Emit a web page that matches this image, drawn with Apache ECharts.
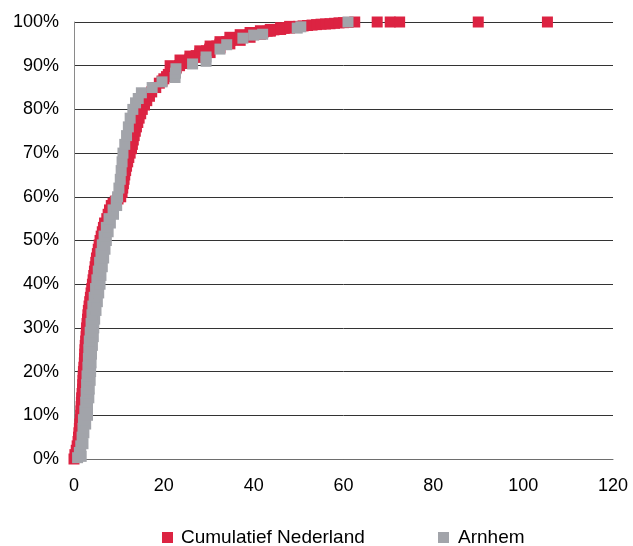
<!DOCTYPE html>
<html>
<head>
<meta charset="utf-8">
<script src="https://cdn.jsdelivr.net/npm/echarts@6/dist/echarts.min.js"></script>
<style>html,body{margin:0;padding:0;background:#fff}#c{width:633px;height:546px}</style>
</head>
<body>
<div id="c"></div>
<script>
// Cumulatief Nederland: [x, cumulative %]
var nederland = [
  [0,0],[0.4,0.5],[0.2,1],[0.8,1.5],[0.5,2],[0.7,3],[0.9,4],[1.0,5],[1.1,6],[1.2,7],
  [1.3,8],[1.4,9],[1.5,10],[1.55,11],[1.6,12],[1.65,13],[1.7,14],[1.8,15],[1.9,16],[1.95,17],
  [2.0,18],[2.05,19],[2.1,20],[2.2,21],[2.3,22],[2.35,23],[2.4,24],[2.45,25],[2.5,26],[2.6,27],
  [2.7,28],[2.75,29],[2.8,30],[2.9,31],[3.0,32],[3.1,33],[3.2,34],[3.35,35],[3.5,36],[3.65,37],
  [3.8,38],[3.95,39],[4.1,40],[4.25,41],[4.4,42],[4.55,43],[4.7,44],[4.85,45],[5.0,46],[5.2,47],
  [5.4,48],[5.6,49],[5.8,50],[6.05,51],[6.3,52],[6.55,53],[6.8,54],[7.3,55],[7.6,56],[7.9,57],
  [8.3,58],[8.7,58.5],[9.2,59],[9.8,59.5],[10.4,60],[10.7,61],[10.85,62],[11.0,63],[11.15,64],[11.3,65],
  [11.5,66],[11.7,67],[11.95,68],[12.2,69],[12.5,70],[12.8,71],[13.0,72],[13.2,73],[13.4,74],[13.65,75],
  [13.9,76],[14.2,77],[14.5,78],[14.85,79],[15.2,80],[15.7,81],[16.2,82],[16.8,83],[17.3,84],[18.2,85],
  [19.0,86],[19.6,86.5],[20.0,87],[20.6,87.5],[21.0,88],[21.5,88.5],[22.1,89],[22.8,89.5],[23.5,90],[24.2,90.5],
  [25,91],[25.8,91.5],[26.5,92],[27.2,92.3],[28,92.7],[28.7,93],[29.5,93.4],[30.2,93.8],[31,94.2],[31.8,94.5],
  [32.5,94.9],[33.2,95.2],[34,95.5],[34.8,95.8],[35.5,96],[36.3,96.3],[37,96.5],[37.7,96.7],[38.5,96.9],[39.2,97.1],
  [40,97.3],[40.8,97.45],[41.5,97.6],[42.2,97.75],[43,97.9],[43.7,98.05],[44.5,98.2],[45.2,98.3],[46,98.4],[46.8,98.55],
  [47.5,98.7],[48.2,98.8],[49,98.9],[50,99.0],[51,99.1],[52,99.2],[53,99.3],[54,99.4],[55,99.5],[56,99.55],
  [57,99.6],[58,99.7],[59,99.8],[60,99.85],[61,99.9],[62.5,100],[67.5,100],[70.4,100],[72.5,100],[90,100],
  [105.4,100],
  // upper edge of the band
  [21.4,90.0],[23.6,91.3],[25.8,92.2],[28,93.4],[30.3,94.5],[32.5,95.5],[34.7,96.5],[37,97.1],[39.2,97.6],[41.5,98.0],
  [43.7,98.3],[46,98.7],[48,99.0],
  // lower edge of the band
  [25.8,90.7],[28,91.9],[30.3,93.0],[32.5,94.1],[34.7,95.0],[37,95.8],[39.2,96.5],[41.5,97.2],[43.7,97.9],[46,98.3],
  [48,98.6]
];
// Arnhem: [x, cumulative %]
var arnhem = [
  [0.8,0.3],[1.6,0.6],[1.2,1.5],[1.5,3],[2.0,3.5],[1.8,5],[2.2,6],[2.0,7],[2.6,8],[2.1,9],
  [3.0,10],[2.4,11],[3.0,12],[2.6,13],[3.3,14],[2.7,15],[3.4,16],[2.8,17],[3.6,18],[2.9,19],
  [3.7,20],[3.1,21],[3.8,22],[3.2,23],[3.9,24],[3.3,25],[4.1,26],[3.4,27],[4.3,28],[3.6,29],
  [4.4,30],[3.8,31],[4.6,32],[4.0,33],[4.9,34],[4.2,35],[5.2,36],[4.5,37],[5.5,38],[4.8,39],
  [5.8,40],[5.1,41],[6.0,42],[5.4,43],[6.3,44],[5.7,45],[6.6,46],[6.0,47],[6.9,48],[6.3,49],
  [7.2,50],[6.7,51],[7.6,52],[7.2,53],[8.1,54],[7.8,55],[8.8,56],[8.7,57],[9.5,58],[9.4,59],
  [9.7,60],[10.0,62],[10.3,64],[10.5,66],[10.7,68],[10.9,70],[11.3,72],[11.7,74],[12.1,76],
  [12.5,78],[13.1,80],[13.7,81.5],[14.3,82.5],[15.0,83.8],[17.4,85],[19.6,86.3],[22.5,87.3],[22.6,88.3],[22.7,89.3],
  [26.4,90.4],[29.4,91],[29.4,92],[32.5,93.8],[34,94.8],[37.6,96.3],[40,97],[42,97.2],[49.7,98.6],[50.5,98.9],
  [61,100]
];
var seriesNames = ['Cumulatief Nederland', 'Arnhem'];
var xTicks = [0, 120, 20];   // min, max, interval
var yTicks = [0, 100, 10];

var chart = echarts.init(document.getElementById('c'), null, {renderer: 'canvas'});
var font = 'Liberation Sans, Arial, sans-serif';
chart.setOption({
  animation: false,
  backgroundColor: '#fff',
  grid: {left: 74, right: 20, top: 22, bottom: 87, containLabel: false},
  xAxis: {
    type: 'value', min: xTicks[0], max: xTicks[1], interval: xTicks[2],
    axisLine: {show: true, lineStyle: {color: '#6e6e6e', width: 1}},
    axisTick: {show: false},
    splitLine: {show: false},
    axisLabel: {color: '#000', fontSize: 18, fontFamily: font, margin: 18}
  },
  yAxis: {
    type: 'value', min: yTicks[0], max: yTicks[1], interval: yTicks[2],
    axisLine: {show: true, lineStyle: {color: '#8a8a8a', width: 1}},
    axisTick: {show: false},
    splitLine: {show: true, lineStyle: {color: '#333', width: 1}},
    axisLabel: {color: '#000', fontSize: 18, fontFamily: font, margin: 15, formatter: '{value}%'}
  },
  legend: [
    {data: [seriesNames[0]], left: 162, top: 528, itemWidth: 11, itemHeight: 11, icon: 'rect', padding: 0,
     textStyle: {color: '#000', fontSize: 19, fontFamily: font, padding: [0,0,0,3]}},
    {data: [seriesNames[1]], left: 438, top: 528, itemWidth: 11, itemHeight: 11, icon: 'rect', padding: 0,
     textStyle: {color: '#000', fontSize: 19, fontFamily: font, padding: [0,0,0,4]}}
  ],
  series: [
    {name: seriesNames[0], type: 'scatter', symbol: 'rect', symbolSize: 11,
     itemStyle: {color: '#DC2342', opacity: 1}, data: nederland, z: 2},
    {name: seriesNames[1], type: 'scatter', symbol: 'rect', symbolSize: 11,
     itemStyle: {color: '#A2A4AA', opacity: 1}, data: arnhem, z: 3}
  ]
});
</script>
</body>
</html>
